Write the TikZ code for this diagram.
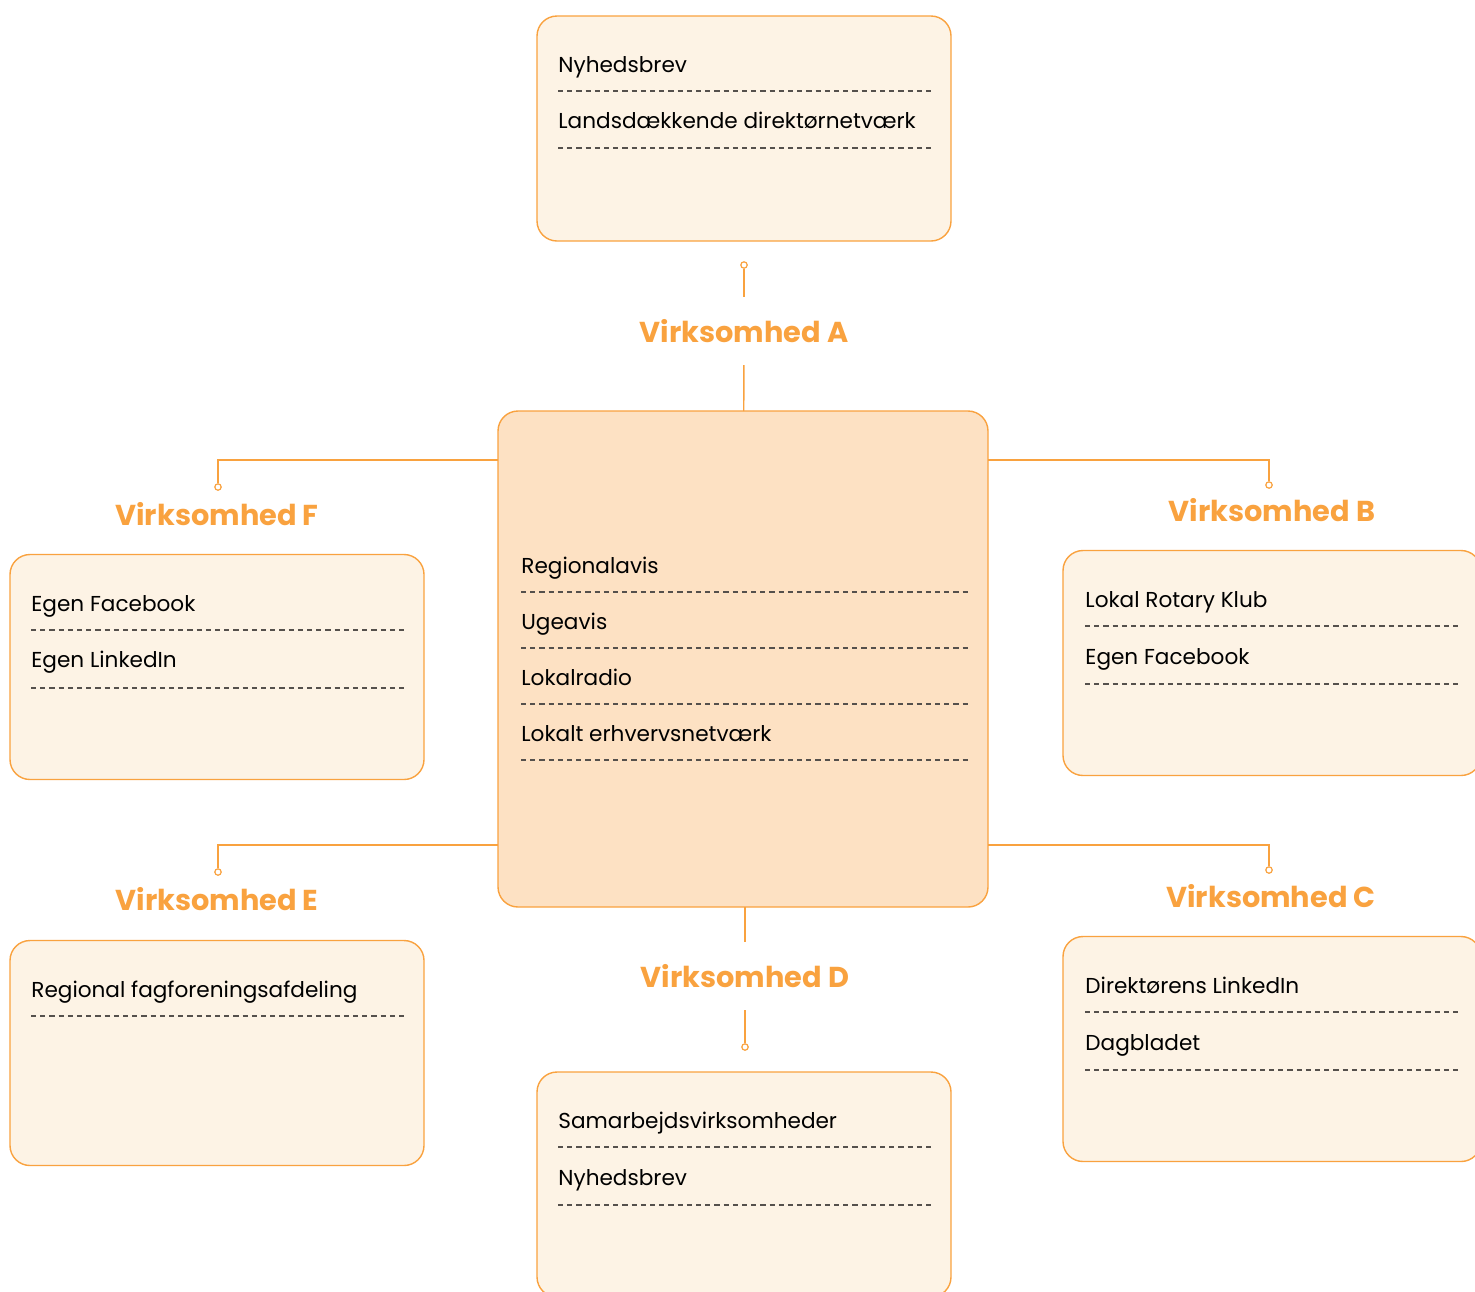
\documentclass[tikz,border=0pt]{standalone}
\usepackage{fontspec}
\setmainfont{Poppins}
\definecolor{orng}{HTML}{F9A23F}
\definecolor{lys}{HTML}{FDF3E5}
\definecolor{fersken}{HTML}{FDE1C3}
\definecolor{streg}{HTML}{55504C}

\begin{document}
\begin{tikzpicture}[x=0.5pt,y=-0.5pt]

\tikzstyle{box} = [rectangle, rounded corners=10pt, draw=orng, fill=lys, line width=0.7pt, minimum width=207pt, minimum height=112.5pt, inner sep=0pt, outer sep=0pt]
\tikzstyle{mid} = [box, fill=fersken, minimum width=245pt, minimum height=248pt]
\tikzstyle{head} = [text=orng, font=\fontsize{14.4}{17}\selectfont\bfseries, minimum height=34pt, inner sep=0pt, outer sep=0pt]
\tikzstyle{item} = [anchor=base west, font=\fontsize{10.8}{13}\selectfont, inner sep=0pt]
\tikzstyle{stiplet} = [draw=streg, line width=0.6pt, dash pattern=on 2.6pt off 2pt]
\tikzstyle{forb} = [draw=orng, line width=0.7pt]
\tikzstyle{dot} = [circle, draw=orng, fill=white, line width=0.6pt, minimum size=3.2pt, inner sep=0pt]

\useasboundingbox (0,0) rectangle (1475,1291);

% bokse
\node (boxA) [box] at (744,128.5) {};
\node (cen) [mid] at (743,659) {};
\node (boxF) [box] at (217,667) {};
\node (boxB) [box, minimum width=209pt] at (1272,663) {};
\node (boxE) [box] at (217,1053) {};
\node (boxC) [box, minimum width=209pt] at (1272,1049) {};
\node (boxD) [box] at (744,1184.5) {};

% overskrifter
\node (hA) [head] at (744,331) {Virksomhed A};
\node (hB) [head] at (1272,510) {Virksomhed B};
\node (hC) [head] at (1271,896) {Virksomhed C};
\node (hD) [head] at (745,976) {Virksomhed D};
\node (hE) [head] at (217,899) {Virksomhed E};
\node (hF) [head] at (217,514) {Virksomhed F};

% prikker
\node (dA) [dot] at (744,265) {};
\node (dB) [dot] at (1269,485) {};
\node (dC) [dot] at (1269,870) {};
\node (dD) [dot] at (745,1047) {};
\node (dE) [dot] at (218,872) {};
\node (dF) [dot] at (218,487) {};

% forbindelser
\draw[forb] (dA) -- (hA);
\draw[forb] (hA) -- (cen);
\draw[forb] (cen.south -| hD) -- (hD);
\draw[forb] (hD) -- (dD);
\draw[forb] (dF) |- ([yshift=-24.5pt]cen.north west);
\draw[forb] (dB) |- ([yshift=-24.5pt]cen.north east);
\draw[forb] (dE) |- ([yshift=31pt]cen.south west);
\draw[forb] (dC) |- ([yshift=31pt]cen.south east);

% A
\node (a1) [item] at (558,72) {Nyhedsbrev};
\draw[stiplet] (558,91) -- (932,91);
\node (a2) [item] at (558,128) {Landsdækkende direktørnetværk};
\draw[stiplet] (558,148) -- (932,148);

% midte
\node (m1) [item] at (521,573) {Regionalavis};
\draw[stiplet] (521,592) -- (971,592);
\node (m2) [item] at (521,629) {Ugeavis};
\draw[stiplet] (521,648) -- (971,648);
\node (m3) [item] at (521,685) {Lokalradio};
\draw[stiplet] (521,704) -- (971,704);
\node (m4) [item] at (521,741) {Lokalt erhvervsnetværk};
\draw[stiplet] (521,760) -- (971,760);

% F
\node (f1) [item] at (31,611) {Egen Facebook};
\draw[stiplet] (31,630) -- (405,630);
\node (f2) [item] at (31,667) {Egen LinkedIn};
\draw[stiplet] (31,688) -- (405,688);

% B
\node (b1) [item] at (1085,607) {Lokal Rotary Klub};
\draw[stiplet] (1085,626) -- (1460,626);
\node (b2) [item] at (1085,664) {Egen Facebook};
\draw[stiplet] (1085,684) -- (1460,684);

% E
\node (e1) [item] at (31,997) {Regional fagforeningsafdeling};
\draw[stiplet] (31,1016) -- (405,1016);

% C
\node (c1) [item] at (1085,993) {Direktørens LinkedIn};
\draw[stiplet] (1085,1012) -- (1460,1012);
\node (c2) [item] at (1085,1050) {Dagbladet};
\draw[stiplet] (1085,1070) -- (1460,1070);

% D
\node (d1) [item] at (558,1128) {Samarbejdsvirksomheder};
\draw[stiplet] (558,1147) -- (932,1147);
\node (d2) [item] at (558,1185) {Nyhedsbrev};
\draw[stiplet] (558,1205) -- (932,1205);

\end{tikzpicture}
\end{document}
